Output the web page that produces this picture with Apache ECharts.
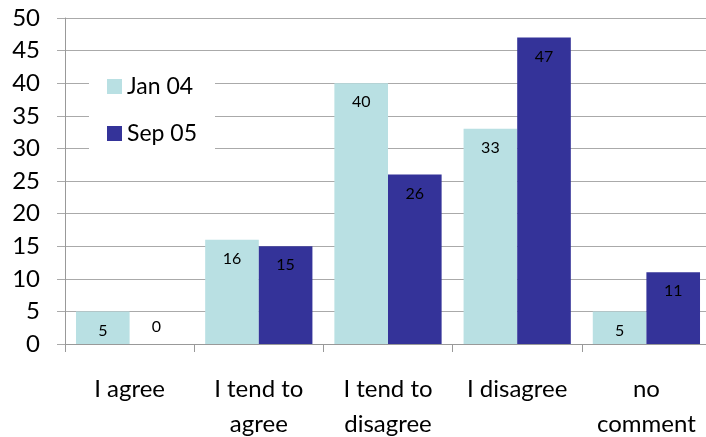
<!DOCTYPE html>
<html>
<head>
<meta charset="utf-8">
<style>
  html, body { margin: 0; padding: 0; background: #fff; }
  #chart { width: 706px; height: 437px; }
</style>
<script src="https://cdn.jsdelivr.net/npm/echarts@6/dist/echarts.min.js"></script>
</head>
<body>
<div id="chart"></div>
<script>
const categories = ['I agree', 'I tend to\nagree', 'I tend to\ndisagree', 'I disagree', 'no\ncomment'];
const seriesNames = ['Jan 04', 'Sep 05'];
const jan04 = [5, 16, 40, 33, 5];
const sep05 = [0, 15, 26, 47, 11];
const colors = ['#b9e0e3', '#343399'];

const font = 'Lato, "Open Sans", sans-serif';

function buildData(values) {
    // a zero bar has no inside, so its label sits just above the axis
    return values.map(v => v === 0
        ? { value: v, label: { position: 'top', distance: 9 } }
        : v);
}

const chart = echarts.init(document.getElementById('chart'));

chart.setOption({
    animation: false,
    textStyle: { fontFamily: font },
    grid: { left: 65, width: 646, top: 18, bottom: 93, outerBoundsMode: 'none' },
    legend: {
        orient: 'vertical',
        left: 89,
        top: 62,
        padding: [13, 18],
        itemGap: 24,
        itemWidth: 15,
        itemHeight: 15,
        backgroundColor: '#fff',
        icon: 'rect',
        textStyle: { fontSize: 23, color: '#000', fontFamily: font },
        data: seriesNames
    },
    xAxis: {
        type: 'category',
        data: categories,
        axisLine: { lineStyle: { color: '#999' } },
        axisTick: { show: true, length: 8, lineStyle: { color: '#999' } },
        axisLabel: {
            interval: 0,
            margin: 28,
            fontSize: 24,
            lineHeight: 35,
            color: '#000',
            fontFamily: font
        }
    },
    yAxis: {
        type: 'value',
        min: 0,
        max: 50,
        interval: 5,
        axisLine: { show: true, lineStyle: { color: '#999' } },
        axisTick: { show: true, inside: false, length: 8, lineStyle: { color: '#aaa' } },
        splitLine: { lineStyle: { color: '#aaa' } },
        axisLabel: { margin: 25, fontSize: 24, color: '#000', fontFamily: font }
    },
    series: [
        {
            name: seriesNames[0],
            type: 'bar',
            data: buildData(jan04),
            itemStyle: { color: colors[0] },
            barGap: '0%',
            barCategoryGap: '17%',
            label: { show: true, position: 'insideTop', distance: 11, fontSize: 16, color: '#000', fontFamily: font }
        },
        {
            name: seriesNames[1],
            type: 'bar',
            data: buildData(sep05),
            itemStyle: { color: colors[1] },
            barGap: '0%',
            barCategoryGap: '17%',
            label: { show: true, position: 'insideTop', distance: 11, fontSize: 16, color: '#000', fontFamily: font }
        }
    ]
});
</script>
</body>
</html>
